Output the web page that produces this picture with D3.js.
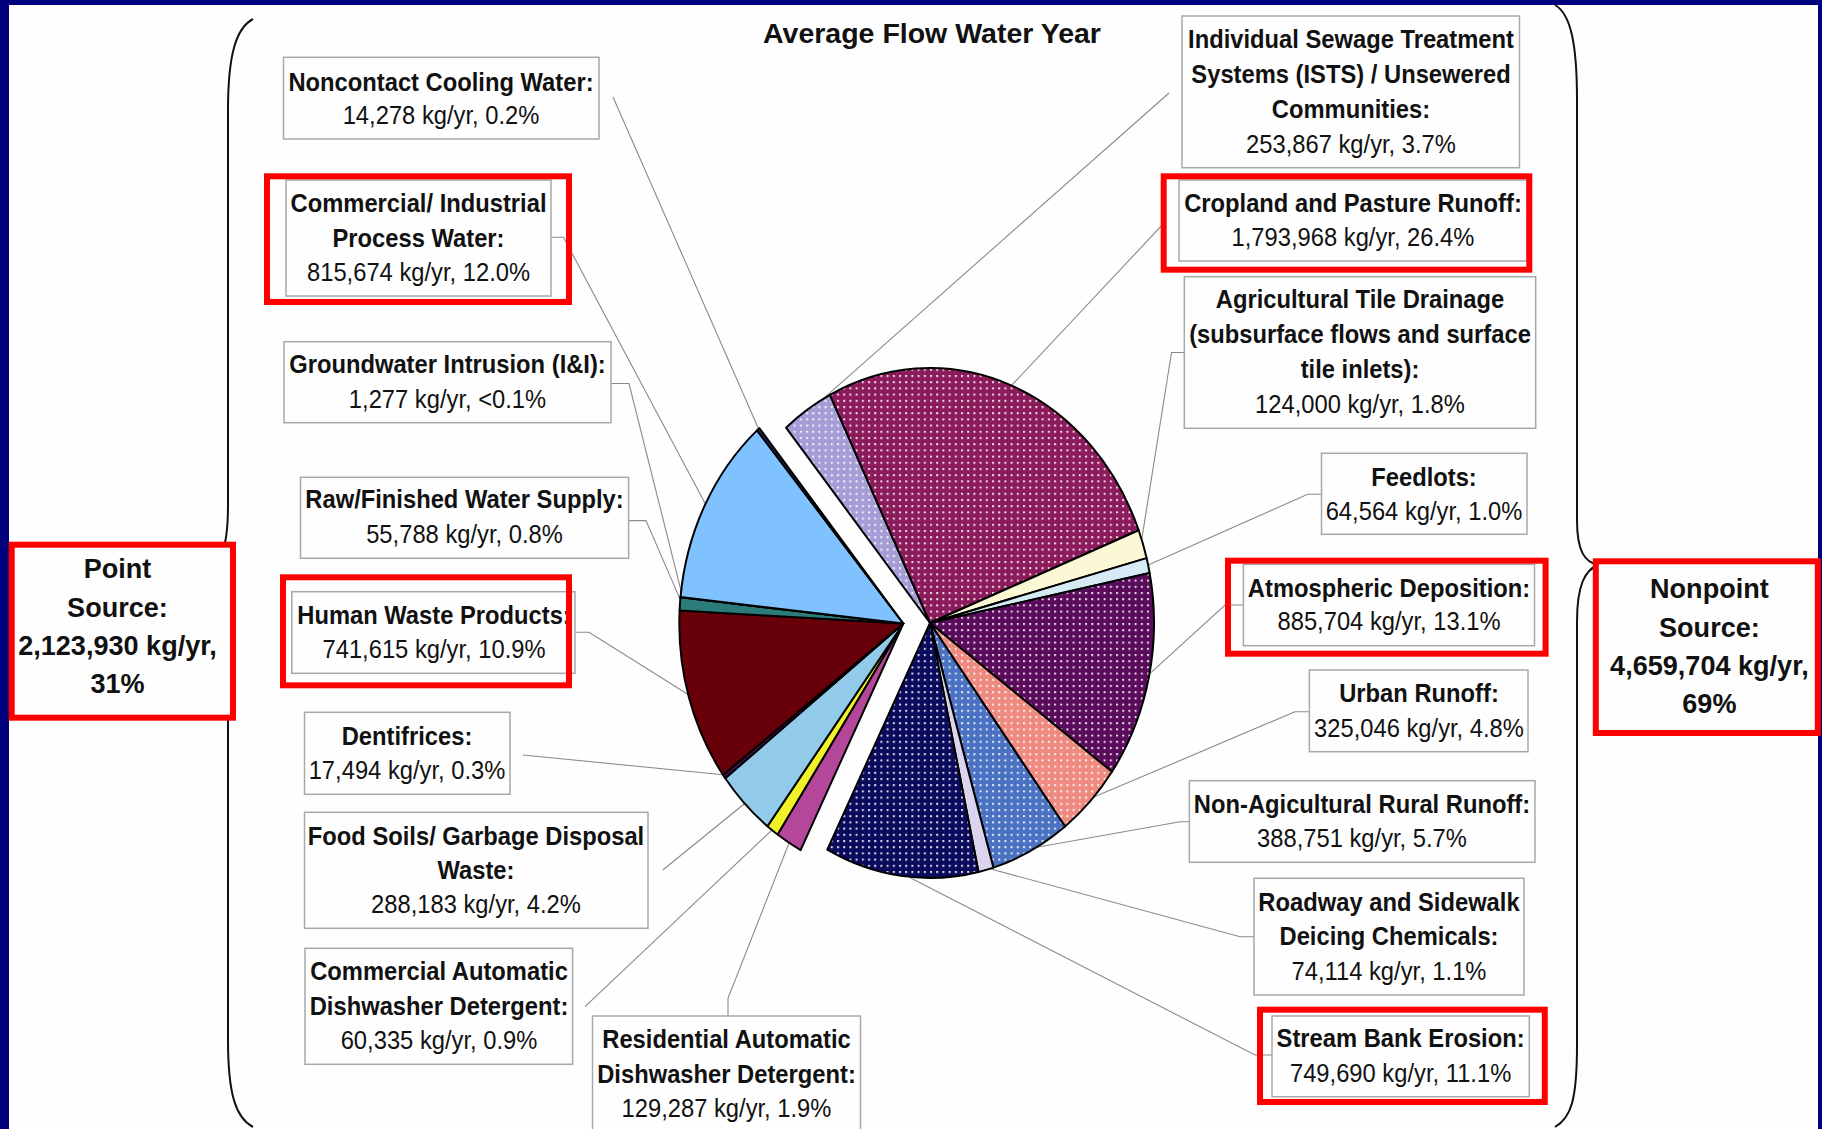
<!DOCTYPE html>
<html><head><meta charset="utf-8">
<script src="https://cdn.jsdelivr.net/npm/d3@7"></script>
<style>body{margin:0;background:#00007d;overflow:hidden} svg{display:block}</style>
</head><body>
<svg id="chart" width="1822" height="1129"></svg>
<script>
// ---------------- DATA ----------------
const title = "Average Flow Water Year";
const categories = [
  "Individual Sewage Treatment Systems (ISTS) / Unsewered Communities",
  "Cropland and Pasture Runoff",
  "Agricultural Tile Drainage (subsurface flows and surface tile inlets)",
  "Feedlots",
  "Atmospheric Deposition",
  "Urban Runoff",
  "Non-Agicultural Rural Runoff",
  "Roadway and Sidewalk Deicing Chemicals",
  "Stream Bank Erosion",
  "Residential Automatic Dishwasher Detergent",
  "Commercial Automatic Dishwasher Detergent",
  "Food Soils/ Garbage Disposal Waste",
  "Dentifrices",
  "Human Waste Products",
  "Raw/Finished Water Supply",
  "Groundwater Intrusion (I&I)",
  "Commercial/ Industrial Process Water",
  "Noncontact Cooling Water"
];
const values = [253867, 1793968, 124000, 64564, 885704, 325046, 388751, 74114, 749690,
                129287, 60335, 288183, 17494, 741615, 55788, 1277, 815674, 14278];
const percents = ["3.7%", "26.4%", "1.8%", "1.0%", "13.1%", "4.8%", "5.7%", "1.1%", "11.1%",
                  "1.9%", "0.9%", "4.2%", "0.3%", "10.9%", "0.8%", "<0.1%", "12.0%", "0.2%"];
const sourceType = ["nonpoint","nonpoint","nonpoint","nonpoint","nonpoint","nonpoint","nonpoint","nonpoint","nonpoint",
                    "point","point","point","point","point","point","point","point","point"];
const labelTitleLines = [
  ["Individual Sewage Treatment", "Systems (ISTS) / Unsewered", "Communities:"],
  ["Cropland and Pasture Runoff:"],
  ["Agricultural Tile Drainage", "(subsurface flows and surface", "tile inlets):"],
  ["Feedlots:"],
  ["Atmospheric Deposition:"],
  ["Urban Runoff:"],
  ["Non-Agicultural Rural Runoff:"],
  ["Roadway and Sidewalk", "Deicing Chemicals:"],
  ["Stream Bank Erosion:"],
  ["Residential Automatic", "Dishwasher Detergent:"],
  ["Commercial Automatic", "Dishwasher Detergent:"],
  ["Food Soils/ Garbage Disposal", "Waste:"],
  ["Dentifrices:"],
  ["Human Waste Products:"],
  ["Raw/Finished Water Supply:"],
  ["Groundwater Intrusion (I&I):"],
  ["Commercial/ Industrial", "Process Water:"],
  ["Noncontact Cooling Water:"]
];
const groupTitleLines = [["Point", "Source:"], ["Nonpoint", "Source:"]];
const groupTotals = [2123930, 4659704];
const groupPercents = ["31%", "69%"];

// ---------------- STYLES ----------------
const fills = ["#a79dd6", "#8c1b5c", "#fbf8d6", "#d6eaf6", "#5a0b5c", "#ee8a80", "#4b72c2", "#dcd4ee", "#0b0b5e",
               "#b4479a", "#f2f22a", "#92cbea", "#4a1050", "#680009", "#2c7b7b", "#333333", "#80c2ff", "#2a2a6a"];
const dotted = [true, true, false, false, true, true, true, false, true,
                false, false, false, false, false, false, false, false, false];

// ---------------- LAYOUT (positions only) ----------------
const layout = [
  {box:[1182,16,1519.5,167.7], cx:1351, ys:[48.3,83.3,118.3,152.7], lead:[[1169,93]]},
  {box:[1179,180,1527,261], cx:1353, ys:[211.7,246], red:[1160.7,173.3,1532.3,272.7], lead:[[1165,222]]},
  {box:[1184.3,276.7,1535.7,428.3], cx:1360, ys:[308.3,343.3,378.3,413.3], lead:[[1184.3,352.5],[1171.5,352.5]]},
  {box:[1321.5,453.3,1527,534.3], cx:1424, ys:[486,520], lead:[[1321.5,494.3],[1307.7,494.3]]},
  {box:[1243.4,564.3,1534.5,645.7], cx:1389, ys:[596.7,630], red:[1225,557.7,1548.6,656.7], lead:[[1243.4,605],[1225,605]]},
  {box:[1309.4,670,1528,751.7], cx:1419, ys:[701.7,736.7], lead:[[1309.4,711.7],[1295,711.7]]},
  {box:[1189.4,780.7,1535,862.3], cx:1362, ys:[813.3,847.3], lead:[[1189.4,821.7],[1180,821.7]]},
  {box:[1254,878.3,1524,995], cx:1389, ys:[910.7,945,980], lead:[[1254,936.7],[1240,936.7]]},
  {box:[1272,1016,1529.3,1096.7], cx:1400.6, ys:[1047.3,1081.7], red:[1257,1006.7,1547.8,1105], lead:[[1272,1055],[1255,1055]]},
  {box:[592.5,1016,860.5,1140], cx:726.5, ys:[1048.3,1083.3,1117.3], lead:[[728,1016],[728,998.3]]},
  {box:[305,948.3,572.6,1064.3], cx:439, ys:[980,1015,1049.3], lead:[[585,1006.7]]},
  {box:[304.5,812.3,648,928.3], cx:476, ys:[845,879.3,913.3], lead:[[662.8,870]]},
  {box:[304.5,712.3,510,794.3], cx:407, ys:[745,779.3], lead:[[523,755]]},
  {box:[291.8,591.7,575,673.3], cx:434, ys:[624.3,657.7], red:[280,574.3,572,688.3], lead:[[575,632.3],[589,632.3]]},
  {box:[300.5,477.3,628.6,558.3], cx:464.5, ys:[508.3,543.3], lead:[[628.6,520.6],[646,520.6]]},
  {box:[284,341.7,611,422.7], cx:447.5, ys:[373.3,408.3], lead:[[611,383.5],[629,383.5]]},
  {box:[286,180,551,296], cx:418.5, ys:[211.7,246.7,281], red:[264,173.3,572,305], lead:[[551,237.3],[563.5,237.3]]},
  {box:[283.5,57.3,599,139], cx:441, ys:[90.7,124], lead:[[613,97]]}
];
const groupLayout = [
  {red:[8.7,541.7,236,720.7], cx:117.5, ys:[578.3,616.7,655,693.3]},
  {red:[1592.8,558.3,1820.8,736], cx:1709.4, ys:[598.3,636.7,675,713.3]}
];
const pieCenters = {nonpoint:[930,623], point:[903.3,623.5]};
const RY = 255, RX = 224;
const FONT = "'Liberation Sans', Arial, Helvetica, sans-serif";

// ---------------- DRAW ----------------
const svg = d3.select("#chart");
const defs = svg.append("defs");
const sx = RX / RY;
const pat = defs.append("pattern").attr("id","dots").attr("patternUnits","userSpaceOnUse")
  .attr("width", 6.2/sx).attr("height", 6.2);
pat.append("rect").attr("x",0).attr("y",0).attr("width",2/sx).attr("height",2).attr("fill","#ffffff").attr("fill-opacity",0.85);

svg.append("rect").attr("width",1822).attr("height",1129).attr("fill","#00007d");
svg.append("rect").attr("x",9).attr("y",5).attr("width",1809).attr("height",1130).attr("fill","#fefefe");

// title
svg.append("text").attr("x",932).attr("y",43).attr("text-anchor","middle")
  .attr("font-family",FONT).attr("font-weight","bold").attr("font-size",28.5).attr("fill","#111")
  .text(title);

// braces
const braceG = svg.append("g").attr("fill","none").attr("stroke","#111").attr("stroke-width",2);
braceG.append("path").attr("d","M253,19 C236,28 228,55 228,110 L228,505 C228,548 221,566 204,572 C221,578 228,598 228,640 L228,1040 C228,1095 236,1118 253,1127");
braceG.append("path").attr("d","M1555,5 C1571,14 1577,45 1577,100 L1577,520 C1577,552 1585,562 1598,565 C1585,570 1577,585 1577,622 L1577,1045 C1577,1100 1571,1118 1555,1127");

// pie layout
const startA = -40 * Math.PI / 180;
const pie = d3.pie().sort(null).value(d => d).startAngle(startA).endAngle(startA + 2*Math.PI);
const arcs = pie(values);
const arcGen = d3.arc().innerRadius(0).outerRadius(RY);

function rimPoint(i, k) {
  const a = arcs[i];
  const m = (a.startAngle + a.endAngle) / 2;
  const c = pieCenters[sourceType[i]];
  return [c[0] + k*RX*Math.sin(m), c[1] - k*RY*Math.cos(m)];
}

// leader lines
const leadG = svg.append("g").attr("fill","none").attr("stroke","#8a8a8a").attr("stroke-width",1.1);
layout.forEach((L, i) => {
  const pts = L.lead.concat([rimPoint(i, 0.99)]);
  leadG.append("path").attr("d", d3.line()(pts));
});

// slices
["nonpoint","point"].forEach(grp => {
  const c = pieCenters[grp];
  const g = svg.append("g").attr("transform",`translate(${c[0]},${c[1]}) scale(${sx},1)`);
  arcs.forEach((a, i) => {
    if (sourceType[i] !== grp) return;
    g.append("path").attr("d", arcGen(a)).attr("fill", fills[i]);
    if (dotted[i]) g.append("path").attr("d", arcGen(a)).attr("fill","url(#dots)");
    g.append("path").attr("d", arcGen(a)).attr("fill","none")
      .attr("stroke","#000").attr("stroke-width",2).attr("stroke-linejoin","round")
      .attr("vector-effect","non-scaling-stroke");
  });
});

// labels
const fmt = d3.format(",");
const labG = svg.append("g").attr("font-family",FONT).attr("fill","#111");
function addText(g, x, y, txt, size, bold, scx) {
  g.append("text").attr("transform",`translate(${x},${y}) scale(${scx},1)`)
    .attr("text-anchor","middle").attr("font-size",size)
    .attr("font-weight", bold ? "bold" : "normal").text(txt);
}
layout.forEach((L, i) => {
  const b = L.box;
  labG.append("rect").attr("x",b[0]).attr("y",b[1]).attr("width",b[2]-b[0]).attr("height",b[3]-b[1])
    .attr("fill","#fefefe").attr("stroke","#a8a8a8").attr("stroke-width",1.5);
  const lines = labelTitleLines[i];
  lines.forEach((t, j) => addText(labG, L.cx, L.ys[j], t, 25, true, 0.95));
  addText(labG, L.cx, L.ys[lines.length], `${fmt(values[i])} kg/yr, ${percents[i]}`, 25, false, 0.95);
});
// red highlight boxes
layout.forEach(L => {
  if (!L.red) return;
  const r = L.red;
  labG.append("rect").attr("x",r[0]+3).attr("y",r[1]+3).attr("width",r[2]-r[0]-6).attr("height",r[3]-r[1]-6)
    .attr("fill","none").attr("stroke","#ff0000").attr("stroke-width",6);
});
// group totals
groupLayout.forEach((G, k) => {
  const r = G.red;
  labG.append("rect").attr("x",r[0]+3).attr("y",r[1]+3).attr("width",r[2]-r[0]-6).attr("height",r[3]-r[1]-6)
    .attr("fill","#fefefe").attr("stroke","#ff0000").attr("stroke-width",6);
  const lines = groupTitleLines[k].concat([`${fmt(groupTotals[k])} kg/yr,`, groupPercents[k]]);
  lines.forEach((t, j) => addText(labG, G.cx, G.ys[j], t, 28.5, true, 0.95));
});
</script>
</body></html>
